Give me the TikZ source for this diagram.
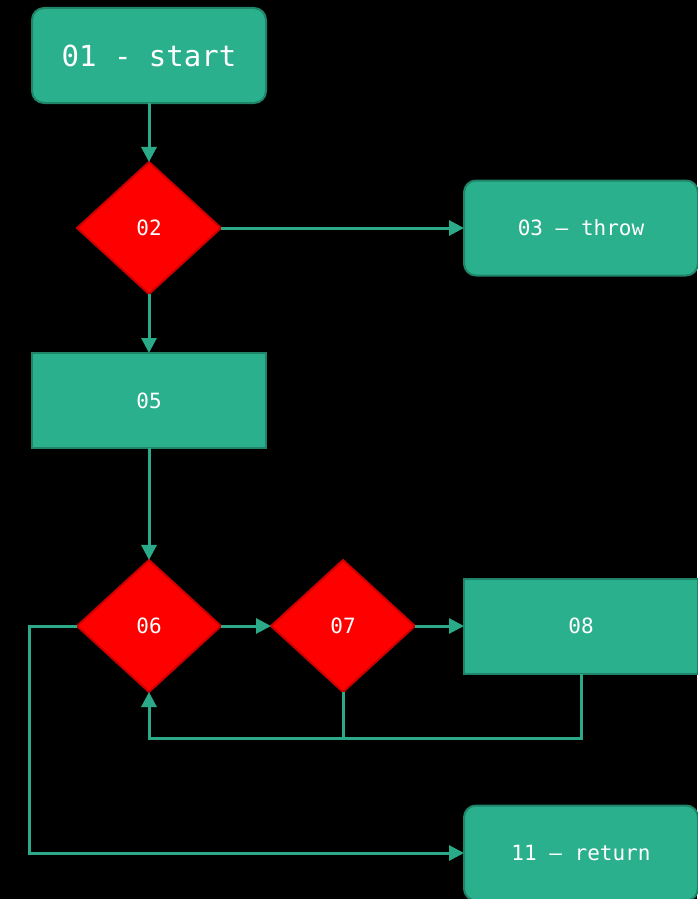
\documentclass[tikz,border=0pt]{standalone}
\usepackage{fontspec}
\setmonofont{DejaVu Sans Mono}
\usepackage{tikz}
\usetikzlibrary{shapes.geometric, arrows.meta, positioning}

\definecolor{flowgreen}{HTML}{2BB08D}
\definecolor{flowedge}{HTML}{1F8468}
\definecolor{flowline}{HTML}{2AAA88}
\definecolor{flowred}{HTML}{FF0000}
\definecolor{flowredge}{HTML}{CC0000}

\begin{document}
\begin{tikzpicture}[
  box/.style={rectangle, draw=flowedge, line width=2pt, fill=flowgreen,
             minimum width=234pt, minimum height=95pt, inner sep=0pt, outer sep=0pt,
             text=white, font=\ttfamily\fontsize{21pt}{25pt}\selectfont},
  termbox/.style={box, rounded corners=12pt},
  decision/.style={diamond, draw=flowredge, line width=2pt, fill=flowred,
             minimum width=144pt, minimum height=132pt, inner sep=0pt, outer sep=0pt,
             text=white, font=\ttfamily\fontsize{21pt}{25pt}\selectfont},
  wire/.style={draw=flowline, line width=3pt},
  arrow/.style={wire, -{Triangle[length=15pt, width=15pt]}}
]

\useasboundingbox (0pt,0pt) rectangle (697pt,-899pt);
\fill[black] (0pt,0pt) rectangle (697pt,-899pt);

\node[termbox, font=\ttfamily\fontsize{29pt}{34pt}\selectfont] (start) at (149pt,-55.5pt) {01 - start};
\node[decision, below=59pt of start] (d02) {02};
\node[termbox, right=243pt of d02] (throw) {03 – throw};
\node[box, below=59pt of d02] (n05) {05};
\node[decision, below=112pt of n05] (d06) {06};
\node[decision, right=50pt of d06] (d07) {07};
\node[box, right=49pt of d07] (n08) {08};
\node[termbox, below=132pt of n08] (ret) {11 – return};
\coordinate[below=46pt of d07.south] (merge);

\draw[arrow] (start) -- (d02);
\draw[arrow] (d02) -- (throw);
\draw[arrow] (d02) -- (n05);
\draw[arrow] (n05) -- (d06);
\draw[arrow] (d06) -- (d07);
\draw[arrow] (d07) -- (n08);
\draw[arrow] (d07.south) -- (merge) -| (d06.south);
\draw[wire] (n08.south) |- (merge);
\draw[arrow] (d06.west) -- ++(-48pt,0pt) |- (ret.west);

\end{tikzpicture}
\end{document}
